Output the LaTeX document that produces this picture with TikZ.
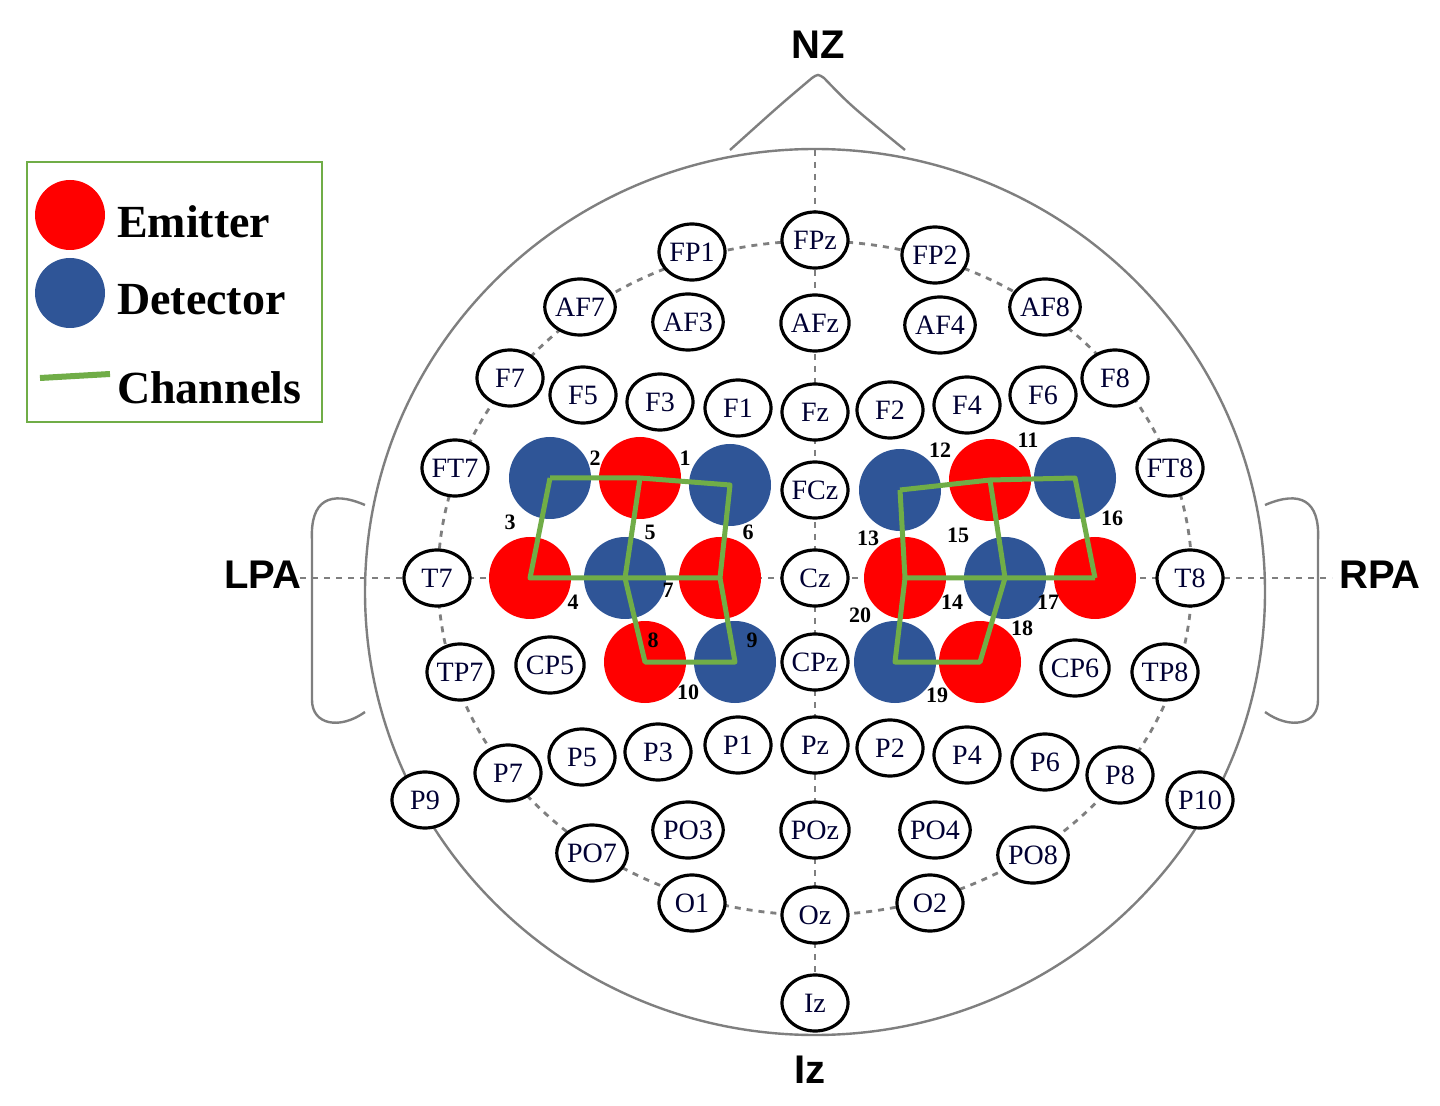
\documentclass[tikz,border=0pt]{standalone}
\usepackage{fontspec}
\setmainfont{Liberation Serif}
\setsansfont{Liberation Sans}
\usetikzlibrary{shapes.geometric}
\definecolor{emred}{HTML}{FF0000}
\definecolor{detblue}{HTML}{2F5597}
\definecolor{chgreen}{HTML}{70AD47}
\definecolor{headgray}{HTML}{7F7F7F}
\begin{document}
\begin{tikzpicture}[x=0.5pt,y=-0.5pt,
  elec/.style={ellipse,draw=black,line width=1.6pt,fill=white,minimum width=33pt,minimum height=28pt,inner sep=0pt,font=\fontsize{14}{14}\selectfont,text=black!80!blue},
  emit/.style={circle,fill=emred,minimum size=41pt,inner sep=0pt},
  detc/.style={circle,fill=detblue,minimum size=41pt,inner sep=0pt},
  chan/.style={chgreen,line width=2.5pt,line join=round},
  num/.style={font=\bfseries\fontsize{11}{11}\selectfont},
  lm/.style={font=\sffamily\bfseries\fontsize{20}{20}\selectfont},
  guide/.style={headgray,line width=1.4pt,dash pattern=on 3pt off 3pt},
  legt/.style={font=\bfseries\fontsize{23}{23}\selectfont,anchor=west}]
\useasboundingbox (0,0) rectangle (1440,1106);
% head
\draw[headgray,line width=1.2pt] (730,150) .. controls (780,105) .. (812,78) .. controls (818,74) .. (824,78) .. controls (850,105) .. (905,150);
\draw[headgray,line width=1.2pt] (365,505) .. controls (330,490) and (310,500) .. (312,540) -- (312,700) .. controls (312,725) and (340,730) .. (365,712);
\draw[headgray,line width=1.2pt] (1265,505) .. controls (1300,490) and (1320,500) .. (1318,540) -- (1318,700) .. controls (1318,725) and (1290,730) .. (1265,712);
\draw[headgray,line width=1.2pt,fill=white] (815,592) ellipse[x radius=450,y radius=443];
\draw[guide] (815,150) -- (815,1035);
\draw[guide] (300,578) -- (1332,578);
\draw[guide] (815,578) ellipse[x radius=377,y radius=337];
\node[lm] (nz) at (818,45) {NZ};
\node[lm] (iz) at (810,1070) {Iz};
\node[lm] (lpa) at (263,575) {LPA};
\node[lm] (rpa) at (1380,575) {RPA};
% electrodes
\foreach \n/\x/\y in {FP1/692/252,FPz/815/240,FP2/935/255,AF7/580/307,AF3/688/322,AFz/815/323,AF4/940/325,AF8/1045/307,
 F7/510/378,F5/583/395,F3/660/402,F1/738/408,Fz/815/412,F2/890/410,F4/967/405,F6/1043/395,F8/1115/378,
 FT7/455/468,FCz/815/490,FT8/1170/468,T7/437/578,Cz/815/578,T8/1190/578,
 TP7/460/672,CP5/550/665,CPz/815/662,CP6/1075/668,TP8/1165/672,
 P9/425/800,P7/508/773,P5/582/757,P3/658/752,P1/738/745,Pz/815/745,P2/890/748,P4/967/755,P6/1045/762,P8/1120/775,P10/1200/800,
 PO7/592/853,PO3/688/830,POz/815/830,PO4/935/830,PO8/1033/855,O1/692/903,Oz/815/915,O2/930/903,Iz/815/1003}
 \node[elec] (e\n) at (\x,\y) {\n};
% optodes
\node[detc] (a1) at (550,478) {}; \node[emit] (a2) at (640,478) {}; \node[detc] (a3) at (730,485) {};
\node[emit] (a4) at (530,578) {}; \node[detc] (a5) at (625,578) {}; \node[emit] (a6) at (720,578) {};
\node[emit] (a7) at (645,662) {}; \node[detc] (a8) at (735,662) {};
\node[detc] (b1) at (900,490) {}; \node[emit] (b2) at (990,480) {}; \node[detc] (b3) at (1075,478) {};
\node[emit] (b4) at (905,578) {}; \node[detc] (b5) at (1005,578) {}; \node[emit] (b6) at (1095,578) {};
\node[detc] (b7) at (895,662) {}; \node[emit] (b8) at (980,662) {};
% channels
\draw[chan] (a1.center) -- (a2.center) -- (a3.center) -- (a6.center);
\draw[chan] (a1.center) -- (a4.center) -- (a5.center) -- (a6.center);
\draw[chan] (a2.center) -- (a5.center) -- (a7.center) -- (a8.center) -- (a6.center);
\draw[chan] (b1.center) -- (b2.center) -- (b3.center) -- (b6.center);
\draw[chan] (b1.center) -- (b4.center) -- (b5.center) -- (b6.center);
\draw[chan] (b2.center) -- (b5.center) -- (b8.center) -- (b7.center) -- (b4.center);
% numbers
\foreach \t/\x/\y in {2/595/458,1/685/458,3/510/522,5/650/532,6/748/532,4/573/602,7/668/590,8/653/640,9/752/640,10/688/692,
 12/940/450,11/1028/440,13/868/538,15/958/535,16/1112/518,14/952/602,17/1048/602,20/860/615,18/1022/628,19/937/695}
 \node[num] (n\t) at (\x,\y) {\t};
% legend
\draw[chgreen,line width=1.2pt,fill=white] (27,162) rectangle (322,422);
\node[emit,minimum size=35pt] (lgE) at (70,215) {};
\node[detc,minimum size=35pt] (lgD) at (70,293) {};
\coordinate (lgA) at (40,378); \coordinate (lgB) at (110,374);
\draw[chan,line width=3pt] (lgA) -- (lgB);
\node[legt] (tE) at (110,222) {Emitter};
\node[legt] (tD) at (110,300) {Detector};
\node[legt] (tC) at (110,388) {Channels};
\end{tikzpicture}
\end{document}
